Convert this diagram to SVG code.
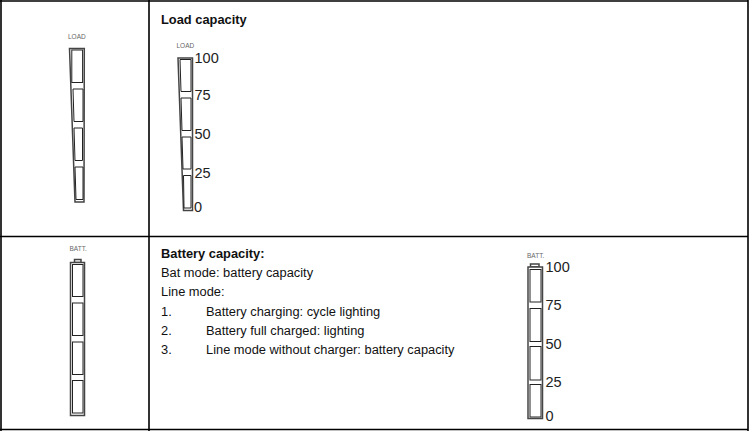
<svg xmlns="http://www.w3.org/2000/svg" width="751" height="431" viewBox="0 0 751 431">
<style>
text{font-family:"Liberation Sans",Arial,sans-serif;fill:#111}
.b{font-size:12.85px;font-weight:bold}
.t{font-size:12.85px}
.n{font-size:14.500px;fill:#222}
.s{font-size:6.500px;fill:#666}
.o{fill:#fff;stroke:#444;stroke-width:1.5}
.i{fill:#fff;stroke:#222;stroke-width:1}
.l{stroke:#000;stroke-width:1.6;fill:none}
</style>
<rect width="751" height="431" fill="#fff"/>
<g id="connectors">
<path class="l" d="M0 1H748M0 236.500H748M0 429.500H748M1 0V431M149 0V431M748 0V431"/>
</g>
<g id="load-icon">
<text class="s" x="68" y="38.500">LOAD</text>
<path class="o" d="M69.500 48.500H84.300L84 202H75Z"/>
<rect class="i" x="71.800" y="50" width="10.800" height="32.500"/>
<path class="i" d="M73 89H83V121.500H74Z"/>
<path class="i" d="M74 128H82.500V160.500H75Z"/>
<path class="i" d="M75 167H83V199.500H76Z"/>
</g>
<g id="load-scale">
<text class="s" x="176.500" y="47.500">LOAD</text>
<path class="o" d="M178 58H192.500V210.500H183.500Z"/>
<path class="i" d="M180 59.500H191V91.500H181Z"/>
<path class="i" d="M181 98H191V130.500H182Z"/>
<path class="i" d="M182 137H191V169H183Z"/>
<path class="i" d="M183.500 175.500H191V208H184Z"/>
<text class="n" x="194.500" y="62.500">100</text>
<text class="n" x="194.500" y="99.500">75</text>
<text class="n" x="194.500" y="139">50</text>
<text class="n" x="194.500" y="177.500">25</text>
<text class="n" x="194" y="211.500">0</text>
</g>
<g id="batt-icon">
<text class="s" x="69.500" y="251">BATT.</text>
<rect class="o" x="74.500" y="259.500" width="6.500" height="3"/>
<rect class="o" x="70.500" y="262.500" width="14" height="153"/>
<rect class="i" x="72.500" y="264.500" width="10.500" height="32"/>
<rect class="i" x="72.500" y="303" width="10.500" height="32.500"/>
<rect class="i" x="72.500" y="342" width="10.500" height="32.500"/>
<rect class="i" x="72.500" y="380.500" width="10.500" height="32.500"/>
</g>
<g id="batt-scale">
<text class="s" x="527" y="257.500">BATT.</text>
<rect class="o" x="530.500" y="264" width="8.500" height="3"/>
<rect class="o" x="528" y="267" width="14.500" height="151.500"/>
<rect class="i" x="530" y="269.500" width="11" height="32.500"/>
<rect class="i" x="530" y="308.500" width="11" height="33"/>
<rect class="i" x="530" y="346.500" width="11" height="33.500"/>
<rect class="i" x="530" y="384.500" width="11" height="32.500"/>
<text class="n" x="545.500" y="271.500">100</text>
<text class="n" x="545.500" y="309.500">75</text>
<text class="n" x="545.500" y="349">50</text>
<text class="n" x="545.500" y="387">25</text>
<text class="n" x="545.500" y="420.500">0</text>
</g>
<g id="load-text">
<text class="b" x="161" y="24">Load capacity</text>
</g>
<g id="batt-text">
<text class="b" x="161" y="258">Battery capacity:</text>
<text class="t" x="161" y="277">Bat mode: battery capacity</text>
<text class="t" x="161" y="296">Line mode:</text>
<text class="t" x="161" y="316">1.</text>
<text class="t" x="206" y="316">Battery charging: cycle lighting</text>
<text class="t" x="161" y="335">2.</text>
<text class="t" x="206" y="335">Battery full charged: lighting</text>
<text class="t" x="161" y="354">3.</text>
<text class="t" x="206" y="354">Line mode without charger: battery capacity</text>
</g>
</svg>
